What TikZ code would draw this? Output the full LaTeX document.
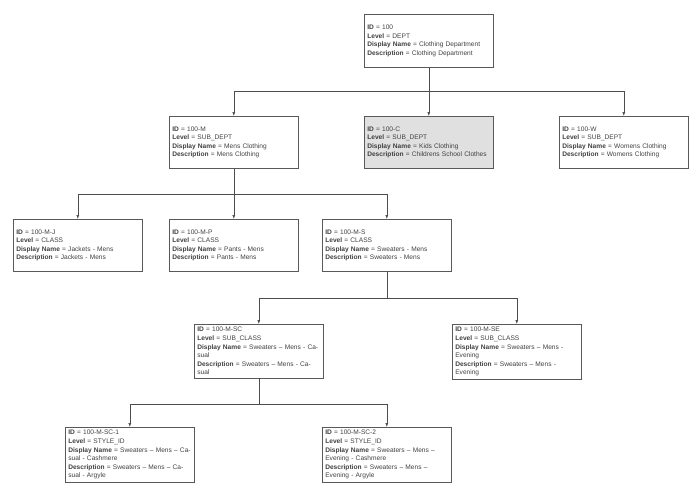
\documentclass[tikz,border=0pt]{standalone}
\usepackage{fontspec}
\setmainfont{Liberation Sans}
\usetikzlibrary{arrows.meta}
\newcommand{\rec}[4]{\textbf{ID} = #1\\\textbf{Level} = #2\\\textbf{Display Name} = #3\\\textbf{Description} = #4}

\begin{document}
\begin{tikzpicture}[x=1pt, y=-1pt]
    \tikzstyle{box} = [draw=black!65, line width=0.6pt, anchor=north west, minimum width=129pt, minimum height=52pt,
      text width=123pt, inner sep=3pt, align=left, font=\fontsize{6.6}{8.6}\selectfont, text=black!75]
    \tikzstyle{hl} = [fill=black!12]
    \tikzstyle{link} = [draw=black!70, line width=0.6pt, -{Latex[length=4pt, width=3pt]}]
    \useasboundingbox (0, 0) rectangle (700, 493);
    \node[box, minimum height=53pt] (root) at (364, 14) {\rec{100}{DEPT}{Clothing Department}{Clothing Department}};
    \node[box] (m) at (169, 116) {\rec{100-M}{SUB\_DEPT}{Mens Clothing}{Mens Clothing}};
    \node[box, hl] (c) at (364, 116) {\rec{100-C}{SUB\_DEPT}{Kids Clothing}{Childrens School Clothes}};
    \node[box] (w) at (559, 116) {\rec{100-W}{SUB\_DEPT}{Womens Clothing}{Womens Clothing}};
    \node[box] (mj) at (13, 219) {\rec{100-M-J}{CLASS}{Jackets - Mens}{Jackets - Mens}};
    \node[box] (mp) at (169, 219) {\rec{100-M-P}{CLASS}{Pants - Mens}{Pants - Mens}};
    \node[box] (ms) at (322, 219) {\rec{100-M-S}{CLASS}{Sweaters - Mens}{Sweaters - Mens}};
    \node[box] (sc) at (194, 324) {\rec{100-M-SC}{SUB\_CLASS}{Sweaters -- Mens - Casual}{Sweaters -- Mens - Casual}};
    \node[box] (se) at (452, 324) {\rec{100-M-SE}{SUB\_CLASS}{Sweaters -- Mens - Evening}{Sweaters -- Mens - Evening}};
    \node[box] (sc1) at (65, 427) {\rec{100-M-SC-1}{STYLE\_ID}{Sweaters -- Mens -- Casual - Cashmere}{Sweaters -- Mens -- Casual - Argyle}};
    \node[box] (sc2) at (322, 427) {\rec{100-M-SC-2}{STYLE\_ID}{Sweaters -- Mens -- Evening - Cashmere}{Sweaters -- Mens -- Evening - Argyle}};
    % tree links
    \foreach \kid in {m, c, w}
      \draw[link] (root.south) -- ++(0, 24) -| (\kid.north);
    \foreach \kid in {mj, mp, ms}
      \draw[link] (m.south) -- ++(0, 26) -| (\kid.north);
    \foreach \kid in {sc, se}
      \draw[link] (ms.south) -- ++(0, 27) -| (\kid.north);
    \foreach \kid in {sc1, sc2}
      \draw[link] (sc.south) -- ++(0, 26) -| (\kid.north);
\end{tikzpicture}
\end{document}
